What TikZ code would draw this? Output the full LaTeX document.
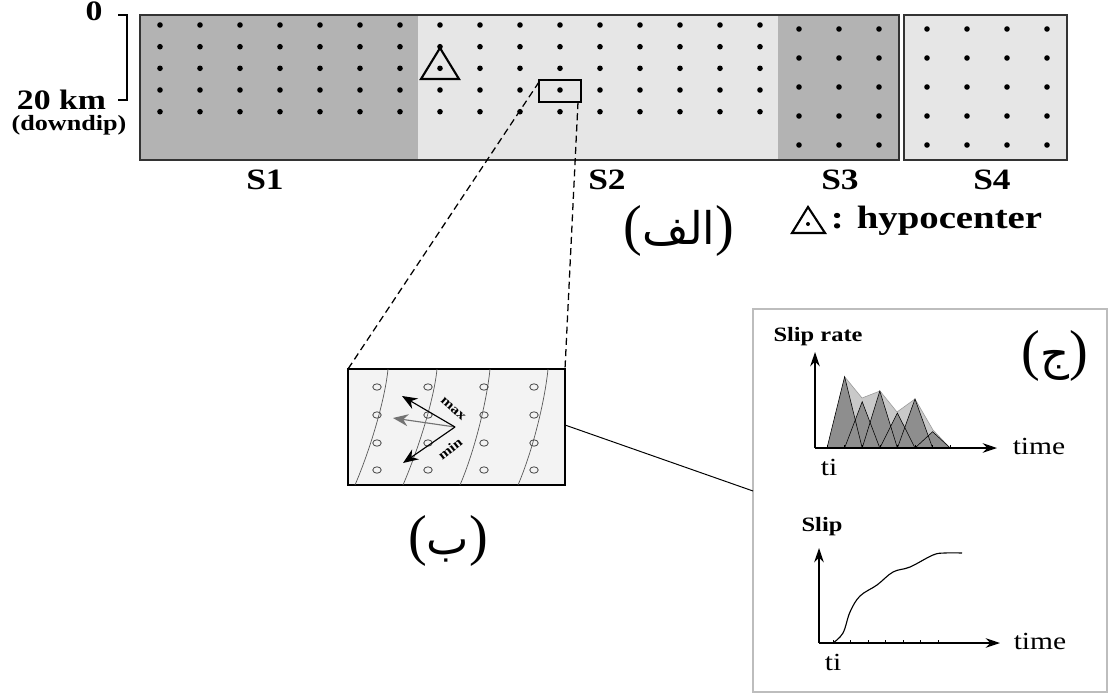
\documentclass[tikz,border=0pt]{standalone}
\usepackage{fontspec}
\setmainfont{Liberation Serif}[FakeStretch=1.2]
\newfontfamily\plainserif{Liberation Serif}
\newfontfamily\arabicfont[Script=Arabic]{DejaVu Sans}
\TeXXeTstate=1
\usetikzlibrary{arrows.meta, positioning, calc}
\definecolor{DarkSeg}{HTML}{B3B3B3}
\definecolor{LightSeg}{HTML}{E6E6E6}
\definecolor{PanelGray}{HTML}{F3F3F3}
\definecolor{FrameGray}{HTML}{BDBDBD}
\definecolor{EnvGray}{HTML}{C9C9C9}
\definecolor{TriGray}{HTML}{8E8E8E}
\newcommand{\fsz}[1]{\fontsize{#1}{#1}\selectfont}

\begin{document}
\begin{tikzpicture}[
    x=0.25mm, y=-0.25mm, >=Stealth,
    frame/.style={draw=black!80, line width=1.3pt},
    dotmark/.style={fill=black},
    seglbl/.style={font=\bfseries\fsz{21}},
    axis/.style={-{Stealth[length=3.6mm, width=2.4mm]}, line width=0.9pt},
    bigarr/.style={-{Stealth[length=3.8mm, width=3mm]}, line width=0.8pt},
    axlbl/.style={font=\fsz{17.5}},
    ttl/.style={font=\bfseries\fsz{14.5}},
    arlbl/.style={font=\plainserif\fsz{40}},
  ]
  \useasboundingbox[fill=white] (0,0) rectangle (1111,696);
  % ---- fault plane S1--S3 ----
  \fill[DarkSeg] (140,15) rectangle (418,160);
  \fill[LightSeg] (418,15) rectangle (778,160);
  \fill[DarkSeg] (778,15) rectangle (899,160);
  \draw[frame] (140,15) rectangle (899,160);
  % ---- S4 ----
  \fill[LightSeg] (904,15) rectangle (1067,160);
  \draw[frame] (904,15) rectangle (1067,160);
  % ---- subfault points ----
  \foreach \x in {160,200,...,400,440,480,...,760}
    \foreach \y in {25,46.7,68.3,90,111.7}
      \fill[dotmark] (\x,\y) circle[radius=0.7mm];
  \foreach \x in {799,839,879,927,967,1007,1047}
    \foreach \y in {29,58,87,116,145}
      \fill[dotmark] (\x,\y) circle[radius=0.7mm];
  % ---- hypocenter ----
  \draw[line width=1.5pt] (440,48) -- (421,79) -- (459,79) -- cycle;
  % ---- zoomed subfault ----
  \draw[line width=1.1pt] (539,80) rectangle (581,102);
  \coordinate (zl) at (539,82);
  \coordinate (zr) at (578,102);
  % ---- segment labels ----
  \node[seglbl] (s1) at (265,180) {S1};
  \node[seglbl] (s2) at (607,180) {S2};
  \node[seglbl] (s3) at (840,180) {S3};
  \node[seglbl] (s4) at (992,180) {S4};
  % ---- depth scale ----
  \draw[line width=1.4pt] (118,15) -- (127,15) -- (127,100) -- (118,100);
  \node[font=\bfseries\fsz{20}] (d0) at (94,11) {0};
  \node[font=\bfseries\fsz{20}, anchor=east] (d20) at (111,100) {20 km};
  \node[font=\bfseries\fsz{15.5}] (ddip) at (69,125) {(downdip)};
  % ---- legend ----
  \draw[line width=1.5pt] (808,207) -- (792,233) -- (825,233) -- cycle;
  \fill (808,224) circle[radius=0.5mm];
  \node[font=\bfseries\fsz{23}, anchor=west] (hypo) at (826,221) {: hypocenter};
  \node[arlbl] (lalef) at (679,231) {({\arabicfont\fsz{32}\beginR الف\endR})};
  % ---- box (b) ----
  \draw[fill=PanelGray, line width=1.3pt] (348,369) rectangle (565,485);
  \coordinate (bnw) at (348,369);
  \coordinate (bne) at (565,369);
  \coordinate (beast) at (565,425);
  \foreach \b/\t in {355/388,403/437,460/490,518/548}
    \draw[black!65, line width=0.5pt] (\b,485) .. controls (\b+15,450) and (\t-3,400) .. (\t,369);
  \foreach \x in {377,428,484,534}
    \foreach \y in {387,415,443,470}
      \draw[black!70, line width=0.6pt] (\x,\y) ellipse[x radius=1.05mm, y radius=0.8mm];
  \coordinate (tail) at (455,427);
  \coordinate (hmax) at (402,396);
  \coordinate (hmid) at (393,418);
  \coordinate (hmin) at (403,463);
  \draw[bigarr, black!55] (tail) -- (hmid);
  \draw[bigarr] (tail) -- (hmax);
  \draw[bigarr] (tail) -- (hmin);
  \node[font=\bfseries\fsz{9.5}, rotate=-42, inner sep=0pt] (lmax) at (453,409) {max};
  \node[font=\bfseries\fsz{9.5}, rotate=38, inner sep=0pt] (lmin) at (450,449) {min};
  \node[arlbl] (lbe) at (448,541) {({\arabicfont\fsz{32}\beginR ب\endR})};
  % ---- dashed zoom lines ----
  \draw[dashed, dash pattern=on 5pt off 3pt, line width=0.9pt] (zl) -- (bnw);
  \draw[dashed, dash pattern=on 5pt off 3pt, line width=0.9pt] (zr) -- (bne);
  % ---- box (c) ----
  \draw[FrameGray, line width=1.1pt] (753,309) rectangle (1107,692);
  \coordinate (cwest) at (753,491);
  \draw[line width=0.7pt] (beast) -- (cwest);
  \node[arlbl] (ljim) at (1055,356) {({\arabicfont\fsz{32}\beginR ج\endR})};
  % ---- slip rate ----
  \fill[EnvGray] (827,448) -- (844.6,376.7) -- (862,398) -- (880,391) -- (897,412)
    -- (915,399) -- (933,430) -- (950,448) -- cycle;
  \draw[black!40, line width=0.4pt] (844.6,376.7) -- (862,398) -- (880,391) -- (897,412)
    -- (915,399) -- (933,430) -- (950,448);
  \foreach \k/\h in {1/376.7,2/401.7,3/391,4/413,5/399,6/431.7}
    \fill[TriGray] (827+17.6*\k-17.6,448) -- (827+17.6*\k,\h) -- (827+17.6*\k+17.6,448) -- cycle;
  \foreach \k/\h in {1/376.7,2/401.7,3/391,4/413,5/399,6/431.7}
    \draw[line width=0.4pt] (827+17.6*\k-17.6,448) -- (827+17.6*\k,\h) -- (827+17.6*\k+17.6,448);
  \foreach \k in {0,...,7}
    \draw[line width=0.4pt] (827+17.6*\k,448) -- ++(0,-3);
  \coordinate (ro) at (815,448);
  \draw[axis] (ro) -- (815,352);
  \draw[axis] (ro) -- (997,448);
  \node[ttl] (srate) at (818,337) {Slip rate};
  \node[axlbl] (rtime) at (1039,446) {time};
  \node[axlbl] (rti) at (829,467) {ti};
  % ---- slip ----
  \foreach \k in {0,...,6}
    \draw[line width=0.4pt] (833+17.5*\k,643) -- ++(0,-3);
  \draw[line width=0.8pt] plot[smooth, tension=0.6] coordinates {(833,643) (843,633) (850,612)
    (860,596) (877,585) (893,572) (910,567) (933,555) (945,553) (962,553)};
  \coordinate (so) at (819,643);
  \draw[axis] (so) -- (819,548);
  \draw[axis] (so) -- (1000,643);
  \node[ttl] (slip) at (822,527) {Slip};
  \node[axlbl] (stime) at (1040,641) {time};
  \node[axlbl] (sti) at (833,662) {ti};
\end{tikzpicture}
\end{document}
